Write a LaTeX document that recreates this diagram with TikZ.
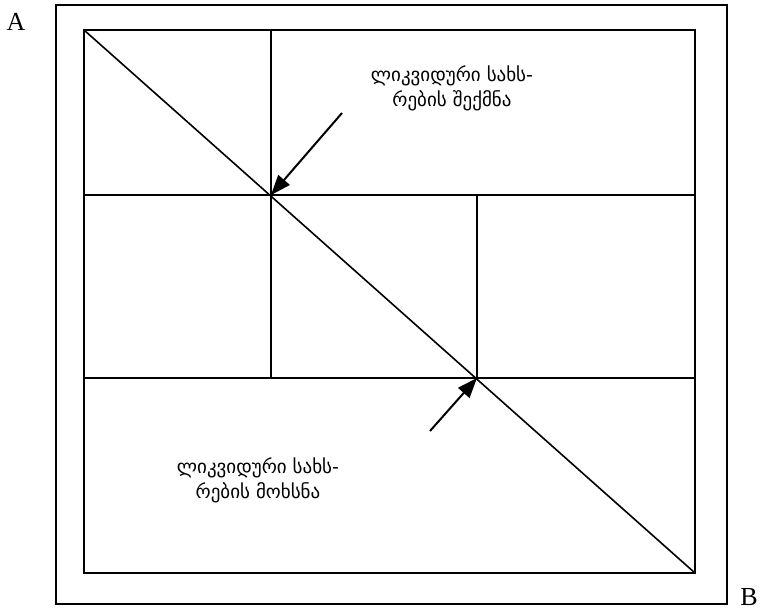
\documentclass[tikz,border=0pt]{standalone}
\usepackage{fontspec}
\setmainfont{Liberation Serif}
\newfontfamily\geofont{DejaVu Sans}
\usetikzlibrary{arrows.meta}
\begin{document}
\begin{tikzpicture}[x=1pt,y=-1pt,
  ln/.style={line width=2pt},
  dg/.style={line width=1.6pt},
  arr/.style={line width=2pt,-{Triangle[length=20pt,width=15pt]}},
  lbl/.style={font=\geofont\fontsize{19}{25}\selectfont,align=center,inner sep=0pt},
  letter/.style={font=\fontsize{26}{26}\selectfont,inner sep=0pt}]
\useasboundingbox (0,0) rectangle (761,613);
% outer frame
\coordinate (o1) at (56,5);
\coordinate (o2) at (727,604);
\draw[ln] (o1) rectangle (o2);
% inner frame
\coordinate (i1) at (84,30);
\coordinate (i2) at (695,573);
\draw[ln] (i1) rectangle (i2);
% grid points
\coordinate (h1l) at (84,195);
\coordinate (h1r) at (695,195);
\coordinate (h2l) at (84,378);
\coordinate (h2r) at (695,378);
\coordinate (v1t) at (271,30);
\coordinate (v1b) at (271,378);
\coordinate (v2t) at (477,195);
\coordinate (v2b) at (477,378);
\coordinate (p1) at (271,195);
\coordinate (p2) at (477,378);
\draw[ln] (h1l) -- (h1r);
\draw[ln] (h2l) -- (h2r);
\draw[ln] (v1t) -- (v1b);
\draw[ln] (v2t) -- (v2b);
\draw[dg] (i1) -- (i2);
% arrows
\coordinate (a1) at (342,113);
\coordinate (a2) at (430,431);
\draw[arr] (a1) -- (p1);
\draw[arr] (a2) -- (p2);
% labels
\node[lbl] (t1) at (452,88) {ლიკვიდური სახს-\\რების შექმნა};
\node[lbl] (t2) at (258,480) {ლიკვიდური სახს-\\რების მოხსნა};
\node[letter] (A) at (16,22) {A};
\node[letter] (B) at (749,597) {B};
\end{tikzpicture}
\end{document}
